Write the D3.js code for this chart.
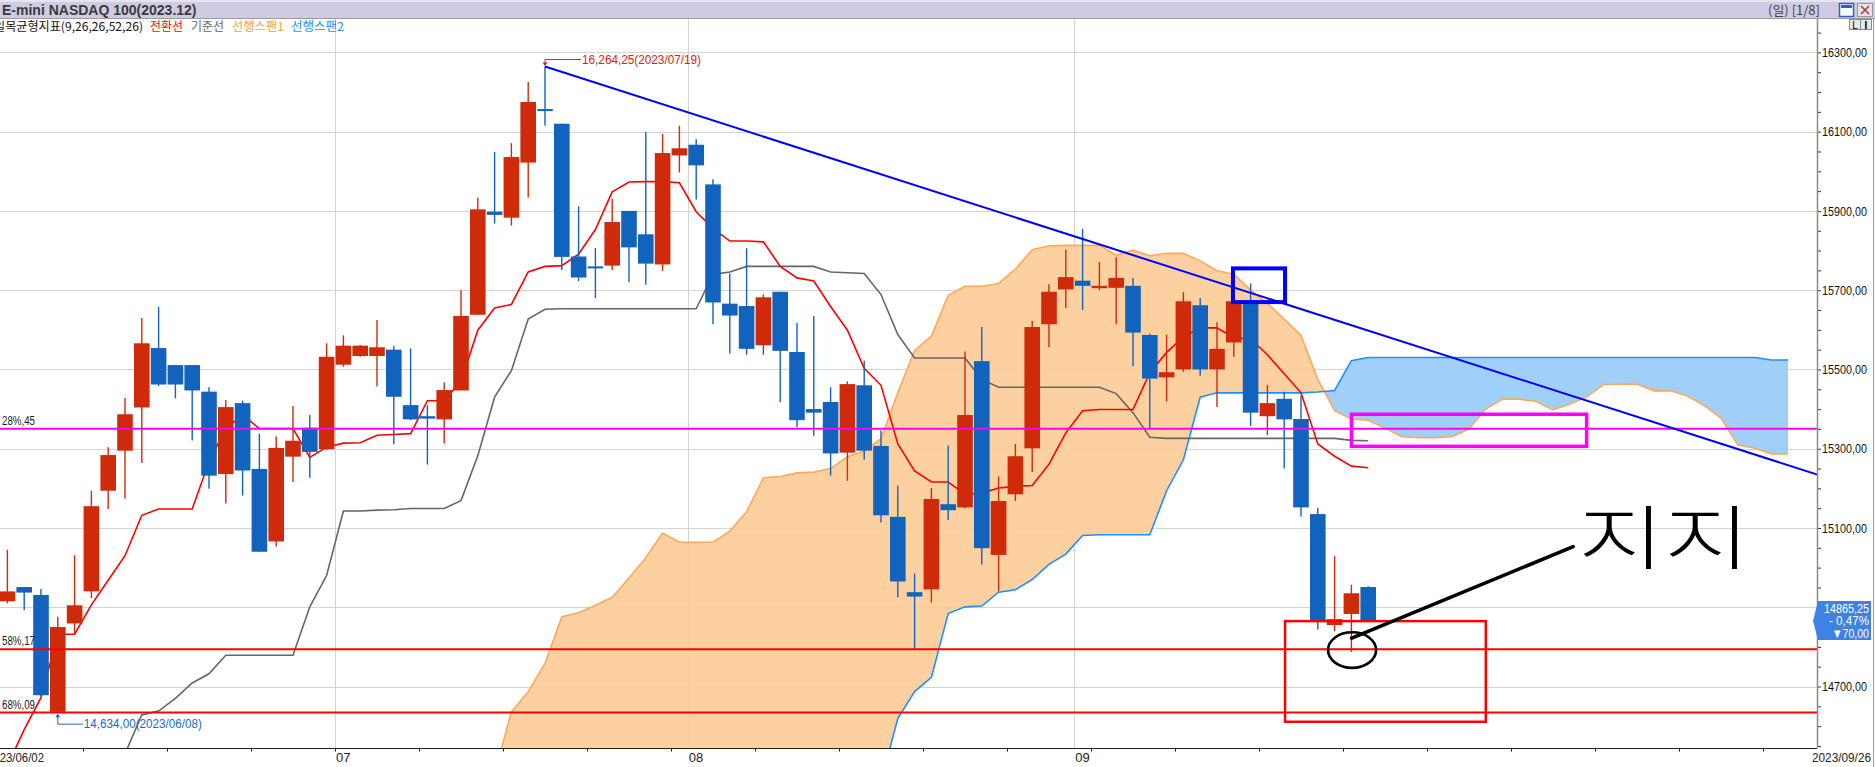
<!DOCTYPE html>
<html>
<head>
<meta charset="utf-8">
<script src="https://cdn.jsdelivr.net/npm/d3@7"></script>
<style>
body{margin:0;background:#fff;overflow:hidden;}
svg{display:block;}
text{font-family:"Liberation Sans",Arial,sans-serif;}
.kr{font-family:"Noto Sans CJK KR","Noto Sans",sans-serif;}
</style>
</head>
<body>
<script>
// daily candles, 2023/06/05 .. 2023/09/26 (index 0..81)
const opens = [14915,14951,14931,14636,14859,14940,15194,15295,15404,15554,
  15511,15511,15444,15236,15415,15249,15066,15280,15353,15299,
  15512,15534,15534,15550,15410,15382,15374,15447,15638,15898,
  15883,16022,16157,16120,15785,15760,15762,15900,15841,15765,
  16040,16067,15967,15666,15660,15561,15696,15544,15400,15418,
  15290,15460,15307,15128,14938,14945,15160,15152,15521,15032,
  15185,15301,15614,15702,15724,15705,15706,15711,15587,15480,
  15500,15662,15500,15568,15669,15382,15426,15375,15135,14855,
  14883,14951];
const highs = [15045,14951,14946,14876,15031,15194,15304,15428,15630,15658,
  15511,15511,15455,15423,15421,15338,15331,15408,15385,15566,
  15586,15562,15625,15559,15553,15410,15468,15700,15934,16049,
  16071,16225,16264.25,16120,15912,15806,15930,15900,16099,16094,
  16115,16081,15980,15742,15806,15689,15696,15617,15635,15455,
  15470,15522,15346,15207,14985,15201,15308,15545,15607,15230,
  15312,15622,15715,15802,15855,15771,15783,15731,15590,15588,
  15695,15680,15619,15678,15717,15461,15444,15435,15151,15029,
  14957,14953];
const lows = [14910,14893,14675,14634,14830,14923,15148,15174,15264,15458,
  15427,15321,15199,15162,15182,15040,15053,15216,15227,15297,
  15507,15532,15457,15311,15372,15260,15313,15447,15638,15868,
  15863,15934,16115,15751,15723,15680,15751,15720,15714,15749,
  15997,15929,15614,15540,15537,15537,15417,15354,15333,15232,
  15219,15272,15114,14925,14794.17,14912,15120,15149,15008,14940,
  15168,15241,15556,15655,15650,15700,15614,15508,15351,15419,
  15494,15484,15405,15532,15357,15334,15250,15129,14844,14839,
  14787,14865];
const closes = [14940,14937,14678,14850,14905,15155,15284,15387,15566,15462,
  15462,15447,15232,15405,15245,15040,15302,15320,15292,15532,
  15560,15560,15556,15431,15374,15376,15448,15635,15904,15890,
  16036,16175,16154,15784,15732,15757,15872,15808,15767,16046,
  16058,16015,15669,15636,15552,15682,15547,15372,15391,15288,
  15463,15295,15132,14965,14927,15173,15145,15385,15049,15168,
  15281,15607,15696,15733,15711,15711,15731,15593,15477,15493,
  15672,15500,15552,15672,15391,15415,15374,15152,14867,14870,
  14935.25,14865.25];

// ichimoku lines
const tenkan = [14500,14591,14672,14832,14832,14906,14968,15030,15132,15148,
  15148,15148,15267,15351,15385,15351,15351,15351,15278,15304,
  15314,15315,15334,15336,15338,15421,15421,15470,15599,15655,
  15664,15746,15760,15762,15791,15853,15948,15973,15974,15974,
  15971,15898,15856,15824,15824,15822,15760,15731,15723,15659,
  15599,15503,15460,15312,15244,15216,15216,15185,15188,15201,
  15205,15207,15261,15340,15396,15399,15399,15399,15492,15543,
  15582,15605,15605,15580,15577,15537,15489,15441,15312,15281,
  15256,15252];
const kijun = [null,null,null,null,null,null,14420,14530,14628,14638,
  14670,14709,14732,14779,14779,14779,14779,14779,14901,14980,
  15143,15143,15145,15146,15149,15149,15149,15169,15282,15430,
  15497,15627,15652,15653,15653,15653,15653,15653,15653,15653,
  15653,15653,15740,15746,15760,15760,15760,15760,15760,15746,
  15744,15742,15689,15588,15529,15529,15529,15529,15475,15455,
  15455,15455,15455,15455,15455,15455,15439,15391,15329,15326,
  15326,15326,15326,15326,15326,15326,15326,15326,15326,15326,
  15321,15320];
const spanStart = 29; // span arrays begin at candle index 29 and run to 106
const span1 = [14480,14636,14687,14758,14876,14886,14905,14925,14974,15025,
  15087,15064,15064,15064,15092,15141,15227,15230,15239,15241,
  15250,15280,15295,15325,15441,15548,15584,15687,15710,15710,
  15717,15753,15802,15812,15813,15813,15813,15788,15801,15787,
  15793,15793,15774,15749,15740,15700,15667,15627,15586,15475,
  15396,15375,15372,15352,15330,15328,15328,15330,15350,15400,
  15425,15425,15419,15398,15413,15431,15462,15463,15463,15446,
  15446,15433,15409,15377,15309,15301,15287,15287];
const span2 = [null,null,null,null,null,null,null,null,null,null,
  null,null,null,null,null,null,null,null,null,null,
  null,null,null,14460,14619,14687,14723,14884,14901,14903,
  14938,14944,14970,15008,15034,15081,15083,15083,15083,15083,
  15194,15272,15430,15441,15441,15441,15441,15441,15441,15443,
  15447,15522,15530,15530,15530,15530,15530,15530,15530,15530,
  15530,15530,15530,15530,15530,15530,15530,15530,15530,15530,
  15530,15530,15530,15530,15530,15530,15524,15524];

// axis labels
const yTicks = [14700,14900,15100,15300,15500,15700,15900,16100,16300];
const monthLabels = ["07","08","09"];
const monthStartIdx = [20,41,64];
const weekStartIdx = [5,10,15,20,25,30,35,40,45,50,55,60,65,70,75,80,85,90,95,100,105];
const firstDate = "2023/06/02", lastDate = "2023/09/26";

// drawn levels and annotations
const levels = [15350.45, 14794.17, 14634.09];
const levelColors = ["#ff00ff","#ff0000","#ff0000"];
const levelLabels = ["28%,45","58%,17","68%,09"];
const trendPoints = [[32,16264.25],[108,15231]];
const boxes = [
  {i0:72.95, i1:76.05, p0:15755, p1:15670, color:"#0000ff", w:4},
  {i0:80.0, i1:94.0, p0:15387, p1:15306, color:"#ff00ff", w:3.5},
  {i0:76.05, i1:88.0, p0:14865, p1:14611, color:"#ff0000", w:2.5}
];
const handLine = [[80.02,14822],[93.2,15053]];
const handCircle = {i:80.04, p:14792, ri:1.43, rp:45};
const handText = {i:93.5, p:15009, text:"지지"};
const highNote = {i:32, date:"2023/07/19"};
const lowNote = {i:3, date:"2023/06/08"};

function createChart(){
  const W = 1875, H = 767;
  const plotRight = 1817, plotTop = 19, plotBottom = 748;
  const RED = "#cf2b0b", BLUE = "#1263be";
  const bw = 15.6;

  let x = d3.scaleLinear().domain([0, 81]).range([7.4, 7.4 + 81*16.8]);
  let y = d3.scaleLinear().domain([14700, 16300]).range([686.5, 52.4]);

  let fmtAxis = v => d3.format(".2f")(v).replace(".", ",");
  let fmtNote = v => d3.format(",.2f")(v).replace(".", ",");

  let svg = d3.select("body").append("svg")
    .attr("width", W).attr("height", H);
  svg.append("rect").attr("width", W).attr("height", H).attr("fill", "#fff");

  let defs = svg.append("defs");
  defs.append("clipPath").attr("id", "plotclip").append("rect")
    .attr("x", 0).attr("y", plotTop).attr("width", plotRight).attr("height", plotBottom - plotTop);

  // cloud data
  let cloud = span1.map(function(v, k){
    return {i: k + spanStart, s1: v, s2: span2[k]};
  });
  let s2y = d => d.s2 == null ? plotBottom + 12 : y(d.s2);

  defs.append("clipPath").attr("id", "aboveS2").append("path")
    .attr("d", d3.area().x(d => x(d.i)).y0(0).y1(s2y)(cloud));
  defs.append("clipPath").attr("id", "belowS2").append("path")
    .attr("d", d3.area().x(d => x(d.i)).y0(s2y).y1(H + 50)(cloud));

  let plot = svg.append("g").attr("clip-path", "url(#plotclip)");

  // grid
  plot.selectAll(".hgrid").data(yTicks).enter().append("line")
    .attr("x1", 0).attr("x2", plotRight)
    .attr("y1", d => Math.round(y(d)) + 0.5).attr("y2", d => Math.round(y(d)) + 0.5)
    .attr("stroke", "#d4d4d4");
  plot.selectAll(".vgrid").data(monthStartIdx).enter().append("line")
    .attr("x1", d => Math.round(x(d - 0.5)) + 0.5).attr("x2", d => Math.round(x(d - 0.5)) + 0.5)
    .attr("y1", plotTop).attr("y2", plotBottom)
    .attr("stroke", "#d4d4d4");

  // cloud fills
  let between = d3.area().x(d => x(d.i)).y0(s2y).y1(d => y(d.s1));
  plot.append("path").attr("d", between(cloud))
    .attr("fill", "#fdcc98").attr("fill-opacity", 0.93)
    .attr("clip-path", "url(#aboveS2)");
  plot.append("path").attr("d", between(cloud))
    .attr("fill", "#9bcdfa").attr("fill-opacity", 0.95)
    .attr("clip-path", "url(#belowS2)");

  let lineIdx = function(offset){
    return d3.line().defined(d => d != null)
      .x((d, k) => x(k + offset)).y(d => y(d));
  };
  plot.append("path").attr("d", lineIdx(spanStart)(span1))
    .attr("fill", "none").attr("stroke", "#ffa85c").attr("stroke-width", 1.6);
  plot.append("path").attr("d", lineIdx(spanStart)(span2))
    .attr("fill", "none").attr("stroke", "#1e8fff").attr("stroke-width", 1.6);
  plot.append("path").attr("d", lineIdx(0)(kijun))
    .attr("fill", "none").attr("stroke", "#666666").attr("stroke-width", 1.6);
  plot.append("path").attr("d", lineIdx(0)(tenkan))
    .attr("fill", "none").attr("stroke", "#ff0000").attr("stroke-width", 1.6);

  // candles
  let candles = opens.map(function(o, i){
    return {i: i, open: o, high: highs[i], low: lows[i], close: closes[i], up: closes[i] >= o};
  });
  let cg = plot.append("g");
  cg.selectAll(".wick").data(candles).enter().append("line")
    .attr("x1", d => x(d.i)).attr("x2", d => x(d.i))
    .attr("y1", d => y(d.high)).attr("y2", d => y(d.low))
    .attr("stroke", d => d.up ? RED : BLUE).attr("stroke-width", 1.4);
  cg.selectAll(".body").data(candles).enter().append("rect")
    .attr("x", d => x(d.i) - bw/2).attr("width", bw)
    .attr("y", d => y(Math.max(d.open, d.close)))
    .attr("height", d => Math.max(2, Math.abs(y(d.open) - y(d.close))))
    .attr("fill", d => d.up ? RED : BLUE);

  // horizontal levels
  plot.selectAll(".level").data(levels).enter().append("line")
    .attr("x1", 0).attr("x2", plotRight)
    .attr("y1", d => y(d)).attr("y2", d => y(d))
    .attr("stroke", (d, k) => levelColors[k]).attr("stroke-width", 2);

  // trend line
  plot.append("path")
    .attr("d", d3.line().x(d => x(d[0])).y(d => y(d[1]))(trendPoints))
    .attr("fill", "none").attr("stroke", "#0000ff").attr("stroke-width", 2);

  // drawn boxes
  plot.selectAll(".box").data(boxes).enter().append("rect")
    .attr("x", d => x(d.i0)).attr("y", d => y(d.p0))
    .attr("width", d => x(d.i1) - x(d.i0)).attr("height", d => y(d.p1) - y(d.p0))
    .attr("fill", "none").attr("stroke", d => d.color).attr("stroke-width", d => d.w);

  // hand drawn note
  plot.append("path")
    .attr("d", d3.line().x(d => x(d[0])).y(d => y(d[1]))(handLine))
    .attr("fill", "none").attr("stroke", "#000").attr("stroke-width", 3.6)
    .attr("stroke-linecap", "round");
  plot.append("ellipse")
    .attr("cx", x(handCircle.i)).attr("cy", y(handCircle.p))
    .attr("rx", x(handCircle.i + handCircle.ri) - x(handCircle.i))
    .attr("ry", y(handCircle.p - handCircle.rp) - y(handCircle.p))
    .attr("fill", "none").attr("stroke", "#000").attr("stroke-width", 2.6);
  svg.append("text").attr("class", "kr")
    .attr("x", x(handText.i)).attr("y", y(handText.p))
    .attr("font-size", 70).attr("font-weight", 300)
    .attr("textLength", 172).attr("lengthAdjust", "spacingAndGlyphs")
    .attr("fill", "#000").text(handText.text);

  // high / low notes
  let hx = x(highNote.i), hy = y(highs[highNote.i]);
  plot.append("path")
    .attr("d", "M" + (hx + 36) + "," + (hy - 7) + "H" + hx + "V" + (hy - 2))
    .attr("fill", "none").attr("stroke", "#e0200c").attr("stroke-width", 1);
  plot.append("path")
    .attr("d", "M" + (hx - 2.5) + "," + (hy - 4) + "L" + (hx + 2.5) + "," + (hy - 4) + "L" + hx + "," + (hy - 0.5) + "Z")
    .attr("fill", "#e0200c");
  svg.append("text").attr("x", hx + 37).attr("y", hy - 2.5)
    .attr("font-size", 12.5).attr("fill", "#e0200c")
    .attr("textLength", 119).attr("lengthAdjust", "spacingAndGlyphs")
    .text(fmtNote(highs[highNote.i]) + "(" + highNote.date + ")");

  let lx = x(lowNote.i), ly = y(lows[lowNote.i]);
  plot.append("path")
    .attr("d", "M" + lx + "," + (ly + 2) + "V" + (ly + 11.5) + "H" + (lx + 25))
    .attr("fill", "none").attr("stroke", "#1c6cc4").attr("stroke-width", 1);
  plot.append("path")
    .attr("d", "M" + (lx - 2.5) + "," + (ly + 4.5) + "L" + (lx + 2.5) + "," + (ly + 4.5) + "L" + lx + "," + (ly + 1) + "Z")
    .attr("fill", "#1c6cc4");
  svg.append("text").attr("x", lx + 26).attr("y", ly + 15.5)
    .attr("font-size", 12.5).attr("fill", "#1c6cc4")
    .attr("textLength", 118).attr("lengthAdjust", "spacingAndGlyphs")
    .text(fmtNote(lows[lowNote.i]) + "(" + lowNote.date + ")");

  // level labels on the left
  svg.selectAll(".lvlab").data(levelLabels).enter().append("text")
    .attr("x", 2).attr("y", (d, k) => y(levels[k]) - 4)
    .attr("font-size", 12.5).attr("fill", "#222")
    .attr("textLength", 33).attr("lengthAdjust", "spacingAndGlyphs")
    .text(d => d);

  // bottom axis
  svg.append("line").attr("x1", 0).attr("x2", plotRight)
    .attr("y1", plotBottom + 0.5).attr("y2", plotBottom + 0.5)
    .attr("stroke", "#222");
  svg.selectAll(".wtick").data(weekStartIdx).enter().append("line")
    .attr("x1", d => Math.round(x(d - 0.5)) + 0.5).attr("x2", d => Math.round(x(d - 0.5)) + 0.5)
    .attr("y1", plotBottom).attr("y2", plotBottom + 3.5)
    .attr("stroke", "#222");
  svg.selectAll(".mlab").data(monthLabels).enter().append("text")
    .attr("x", (d, k) => x(monthStartIdx[k] - 0.5) + 1).attr("y", 762)
    .attr("font-size", 13).attr("fill", "#222").text(d => d);
  svg.append("text").attr("x", -13).attr("y", 762)
    .attr("font-size", 13).attr("fill", "#222")
    .attr("textLength", 57).attr("lengthAdjust", "spacingAndGlyphs").text(firstDate);
  svg.append("text").attr("x", 1812).attr("y", 762)
    .attr("font-size", 13).attr("fill", "#222")
    .attr("textLength", 59).attr("lengthAdjust", "spacingAndGlyphs").text(lastDate);

  // right axis
  let minorTicks = d3.range(14550, 16351, 50);
  let yaxis = svg.append("g")
    .attr("transform", "translate(" + plotRight + ",0)")
    .call(d3.axisRight(y).tickValues(minorTicks).tickSize(4).tickPadding(1)
      .tickFormat(v => yTicks.indexOf(v) >= 0 ? fmtAxis(v) : ""));
  yaxis.select(".domain").remove();
  yaxis.selectAll("text").attr("font-size", 13).attr("fill", "#111")
    .attr("font-family", '"Liberation Sans",sans-serif')
    .filter(function(){ return this.textContent !== ""; })
    .attr("textLength", 45).attr("lengthAdjust", "spacingAndGlyphs");
  yaxis.selectAll("line").attr("stroke", "#333");
  svg.append("line").attr("x1", plotRight + 0.5).attr("x2", plotRight + 0.5)
    .attr("y1", plotTop).attr("y2", plotBottom)
    .attr("stroke", "#8a8a8a").attr("stroke-width", 1.5);
  svg.append("line").attr("x1", 1873.5).attr("x2", 1873.5)
    .attr("y1", plotTop).attr("y2", H)
    .attr("stroke", "#a0a0a0");

  // current price tag
  let last = closes[closes.length - 1], prev = closes[closes.length - 2];
  let ty = y(last);
  svg.append("path")
    .attr("d", "M" + (plotRight - 4) + "," + ty + "L" + (plotRight + 1) + "," + (ty - 20) +
      "H1871V" + (ty + 19) + "H" + (plotRight + 1) + "Z")
    .attr("fill", "#3f82e6");
  let tagLines = [fmtAxis(last), "- " + d3.format(".2f")(Math.abs((last - prev) / prev * 100)).replace(".", ",") + "%",
    "\u25BC" + fmtAxis(Math.abs(last - prev))];
  let tagWidths = [45, 40, 37];
  svg.selectAll(".tag").data(tagLines).enter().append("text")
    .attr("x", (d, k) => 1869 - tagWidths[k]).attr("y", (d, k) => ty - 8.5 + k * 12.5)
    .attr("font-size", 13).attr("fill", "#fff")
    .attr("textLength", (d, k) => tagWidths[k]).attr("lengthAdjust", "spacingAndGlyphs")
    .text(d => d);

  // header bar
  svg.append("rect").attr("x", 0).attr("y", 0).attr("width", W).attr("height", 18)
    .attr("fill", "#cfcbe2");
  svg.append("rect").attr("x", 0).attr("y", 0).attr("width", W).attr("height", 2)
    .attr("fill", "#e6e4ee");
  svg.append("line").attr("x1", 0).attr("x2", W).attr("y1", 18.5).attr("y2", 18.5)
    .attr("stroke", "#9c9c9c");
  svg.append("text").attr("x", 2).attr("y", 15)
    .attr("font-size", 14).attr("font-weight", "bold").attr("fill", "#3a3a3a")
    .text("E-mini NASDAQ 100(2023.12)");
  svg.append("text").attr("class", "kr").attr("x", 1768).attr("y", 15)
    .attr("font-size", 13).attr("fill", "#444").text("(일) [1/8]");
  // window buttons
  svg.append("rect").attr("x", 1839.5).attr("y", 3.5).attr("width", 14).attr("height", 13)
    .attr("fill", "#fff").attr("stroke", "#2c5fc8").attr("stroke-width", 1.5);
  svg.append("rect").attr("x", 1841).attr("y", 5).attr("width", 11).attr("height", 3)
    .attr("fill", "#2c5fc8");
  svg.append("rect").attr("x", 1857.5).attr("y", 3.5).attr("width", 15).attr("height", 13)
    .attr("fill", "#e4e2ea").attr("stroke", "#999");
  svg.append("path").attr("d", "M1861,6L1869,14M1869,6L1861,14")
    .attr("stroke", "#c0392b").attr("stroke-width", 1.6);
  svg.append("rect").attr("x", 1849.5).attr("y", 19.5).attr("width", 11).attr("height", 10)
    .attr("fill", "#e8e8e8").attr("stroke", "#888");
  svg.append("rect").attr("x", 1860.5).attr("y", 19.5).attr("width", 11).attr("height", 10)
    .attr("fill", "#e8e8e8").attr("stroke", "#888");
  svg.append("text").attr("x", 1855).attr("y", 28.5).attr("text-anchor", "middle")
    .attr("font-size", 10).attr("fill", "#000").text("L");
  svg.append("text").attr("x", 1866).attr("y", 28.5).attr("text-anchor", "middle")
    .attr("font-size", 10).attr("font-weight", "bold").attr("fill", "#000").text("I");

  // legend
  let legend = [
    {t: "일목균형지표(9,26,26,52,26)", c: "#111", x: -6, w: 149},
    {t: "전환선", c: "#ff0000", x: 150, w: 33},
    {t: "기준선", c: "#666666", x: 191, w: 33},
    {t: "선행스팬1", c: "#ffa040", x: 232, w: 52},
    {t: "선행스팬2", c: "#1e8fff", x: 291, w: 53}
  ];
  svg.selectAll(".leg").data(legend).enter().append("text")
    .attr("class", "kr").attr("x", d => d.x).attr("y", 31)
    .attr("font-size", 12).attr("fill", d => d.c)
    .attr("textLength", d => d.w).attr("lengthAdjust", "spacingAndGlyphs")
    .text(d => d.t);
}

createChart();
</script>
</body>
</html>
